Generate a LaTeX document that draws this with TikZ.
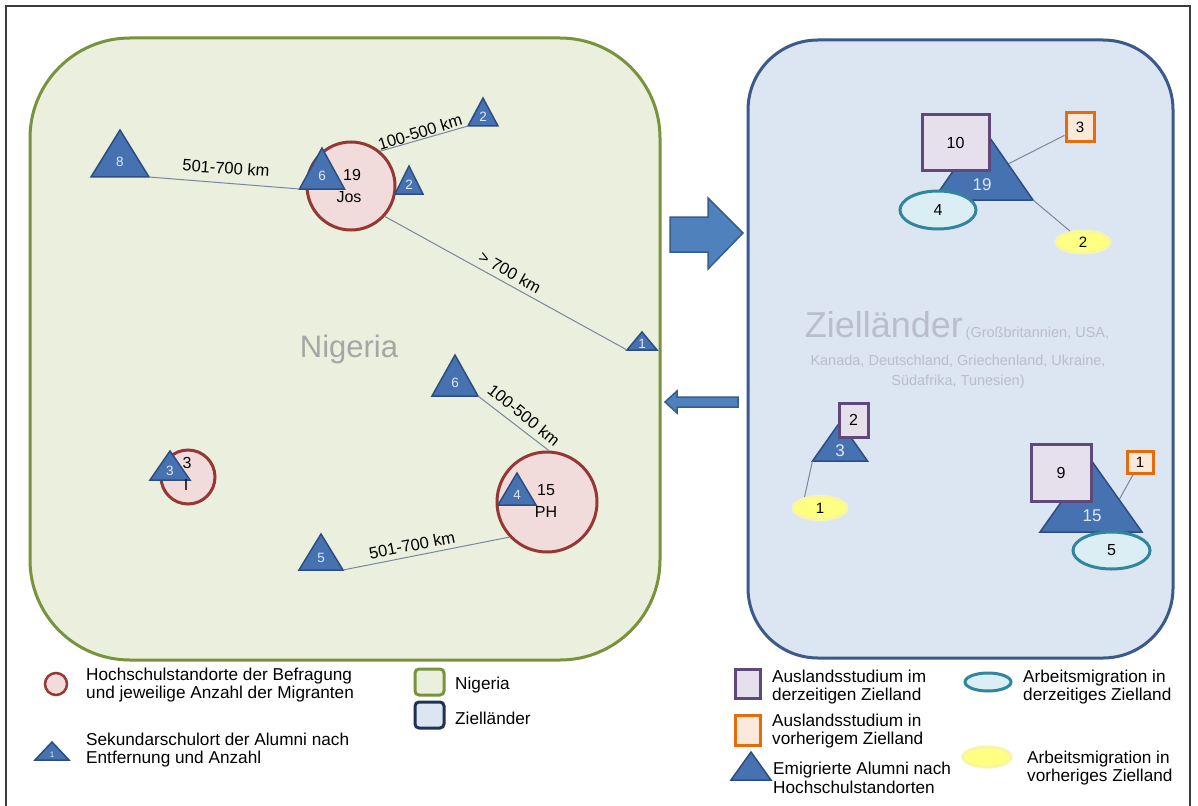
\documentclass[tikz,border=0pt]{standalone}
\usepackage{fontspec}
\setmainfont{Liberation Sans}
\usetikzlibrary{calc,shapes.geometric}
\definecolor{ngF}{RGB}{235,240,222}
\definecolor{ngD}{RGB}{119,147,60}
\definecolor{zlF}{RGB}{220,230,242}
\definecolor{zlD}{RGB}{59,89,138}
\definecolor{navyD}{RGB}{31,50,84}
\definecolor{triF}{RGB}{70,114,178}
\definecolor{triD}{RGB}{44,77,128}
\definecolor{triT}{RGB}{222,232,246}
\definecolor{uniF}{RGB}{242,220,219}
\definecolor{uniD}{RGB}{149,55,53}
\definecolor{purF}{RGB}{230,224,236}
\definecolor{purD}{RGB}{95,73,122}
\definecolor{orF}{RGB}{253,233,217}
\definecolor{orD}{RGB}{228,108,10}
\definecolor{tlF}{RGB}{219,238,243}
\definecolor{tlD}{RGB}{49,133,156}
\definecolor{ylF}{RGB}{255,255,130}
\definecolor{ylD}{RGB}{246,246,165}
\definecolor{connC}{RGB}{120,135,155}
\definecolor{ngT}{RGB}{166,166,166}
\definecolor{zlT}{RGB}{185,190,202}
\definecolor{arF}{RGB}{79,129,189}
\definecolor{arD}{RGB}{56,93,138}
\definecolor{frameC}{RGB}{60,60,60}

\newcommand\mytri[7]{% name, cx, apexy, basey, halfwidth, label, labely
  \coordinate (#1-a) at (#2,#3);
  \coordinate (#1-l) at ({#2-#5},#4);
  \coordinate (#1-r) at ({#2+#5},#4);
  \path[tri] (#1-a) -- (#1-l) -- (#1-r) -- cycle;
  \node[trilbl] (#1) at (#2,#7) {#6};}

\begin{document}
\begin{tikzpicture}[x=1pt,y=-1pt,
  tri/.style={fill=triF, draw=triD, line width=1.5pt, line join=miter},
  trilbl/.style={text=triT, font=\fontsize{13.5}{14}\selectfont, inner sep=0pt},
  conn/.style={draw=connC, line width=1pt},
  km/.style={font=\fontsize{16.5}{17}\selectfont, inner sep=0pt},
  uni/.style={circle, draw=uniD, fill=uniF, line width=3pt, inner sep=0pt},
  txt/.style={font=\fontsize{16}{16}\selectfont, inner sep=0pt},
  psq/.style={rectangle, draw=purD, fill=purF, line width=3pt, inner sep=0pt, font=\fontsize{16}{16}\selectfont},
  osq/.style={rectangle, draw=orD, fill=orF, line width=3pt, inner sep=0pt, font=\fontsize{15}{15}\selectfont},
  tell/.style={ellipse, draw=tlD, fill=tlF, line width=3pt, inner sep=0pt, font=\fontsize{16}{16}\selectfont},
  yell/.style={ellipse, draw=ylD, fill=ylF, line width=3pt, inner sep=0pt, font=\fontsize{15}{15}\selectfont},
  leg/.style={anchor=west, align=left, inner sep=0pt, font=\fontsize{17.2}{18.5}\selectfont},
  bigarrow/.style={fill=arF, draw=arD, line width=1.5pt, line join=miter}]
\useasboundingbox (0,0) rectangle (1198,805);
\fill[white] (0,0) rectangle (1198,805);
\draw[frameC, line width=1.2pt] (6,815) -- (6,6) -- (1190,6) -- (1190,815);

% panels
\draw[fill=ngF, draw=ngD, line width=3pt, rounded corners=100pt] (30,38) rectangle (660,660);
\draw[fill=zlF, draw=zlD, line width=3pt, rounded corners=70pt] (748,40) rectangle (1173,658);

% arrows between panels
\path[bigarrow] (670,217) -- (708,217) -- (708,198) -- (743,233) -- (708,269) -- (708,252) -- (670,252) -- cycle;
\path[bigarrow] (738,397) -- (677,397) -- (677,391) -- (665,402) -- (677,413) -- (677,407) -- (738,407) -- cycle;

% Nigeria title
\node[font=\fontsize{31}{31}\selectfont, text=ngT] (ngname) at (349,349) {Nigeria};

% university sites
\node[uni, minimum size=88pt] (jos) at (351,186) {};
\node[uni, minimum size=100pt] (ph) at (547,502) {};
\node[uni, minimum size=54pt] (ii) at (188,477) {};

% Jos cluster
\mytri{t8}{120}{130}{177}{29}{8}{162}
\mytri{t6a}{322}{148}{189}{22.5}{6}{176}
\mytri{t2a}{409}{166}{194}{14}{2}{185}
\mytri{t2b}{483}{98}{126}{15}{2}{117}
\mytri{t1}{642}{332}{350}{15}{1}{344}
\node[txt] (jos19) at (352,175) {19};
\node[txt] (josname) at (349,197) {Jos};
\draw[conn] (t8-r) -- (t6a-l);
\draw[conn] (jos.50) -- (t2b-l);
\draw[conn] (jos.-42) -- (t1-l);
\node[km, rotate=-4] (km1) at (226,168) {501-700 km};
\node[km, rotate=17] (km2) at (420,132) {100-500 km};
\node[km, rotate=-29] (km3) at (510,272) {> 700 km};

% PH cluster
\mytri{t6b}{455}{355}{396}{23}{6}{383}
\mytri{t4}{517}{473}{505}{19}{4}{495}
\mytri{t5}{321}{534}{570}{22}{5}{558}
\node[txt] (ph15) at (546,490) {15};
\node[txt] (phname) at (546,512) {PH};
\draw[conn] (t6b-r) -- (ph.88);
\draw[conn] (t5-r) -- (ph.223);
\node[km, rotate=-39] (km4) at (524,415) {100-500 km};
\node[km, rotate=11] (km5) at (412,545) {501-700 km};

% I cluster
\mytri{t3}{170}{451}{480}{20}{3}{471}
\node[txt] (ii3) at (187,463) {3};
\node[txt] (iiname) at (186,485) {I};

% Zielländer title
\node[anchor=base, text=zlT, inner sep=0pt] (zl1) at (957,337) {{\fontsize{36}{36}\selectfont Zielländer} {\fontsize{14.5}{15}\selectfont (Großbritannien, USA,}};
\node[anchor=base, text=zlT, inner sep=0pt, font=\fontsize{14.5}{15}\selectfont] (zl2) at (958,365) {Kanada, Deutschland, Griechenland, Ukraine,};
\node[anchor=base, text=zlT, inner sep=0pt, font=\fontsize{14.5}{15}\selectfont] (zl3) at (958,385) {Südafrika, Tunesien)};

% Ziel cluster 19
\coordinate (e19side) at (1008,164);
\node[osq, minimum width=28pt, minimum height=29pt] (o3) at (1080,127.5) {3};
\node[yell, minimum width=54pt, minimum height=22pt] (y2) at (1083,242) {2};
\draw[conn] (e19side) -- (o3);
\mytri{e19}{983}{128}{200}{50}{}{185}
\draw[conn] (e19-r) -- (y2);
\node[trilbl, font=\fontsize{17}{17}\selectfont] (e19n) at (982,185) {19};
\node[psq, minimum width=67pt, minimum height=56pt] (p10) at (955.5,143) {10};
\node[tell, minimum width=76pt, minimum height=38pt] (l4) at (938,210) {4};

% Ziel cluster 3
\node[yell, minimum width=54pt, minimum height=23pt] (y1) at (820,508) {1};
\mytri{e3}{840}{422}{461}{27.5}{}{451}
\draw[conn] (e3-l) -- (y1.145);
\node[trilbl, font=\fontsize{17}{17}\selectfont] (e3n) at (840,451) {3};
\node[psq, minimum width=29pt, minimum height=34pt] (p2) at (853.5,420) {2};

% Ziel cluster 15
\node[osq, minimum width=26pt, minimum height=22pt] (o1) at (1140,462) {1};
\coordinate (e15side) at (1119,500);
\draw[conn] (e15side) -- (o1);
\mytri{e15}{1091}{460}{532}{51}{}{516}
\node[trilbl, font=\fontsize{17}{17}\selectfont] (e15n) at (1092,516) {15};
\node[psq, minimum width=60pt, minimum height=57pt] (p9) at (1061,472.5) {9};
\node[tell, minimum width=77pt, minimum height=37pt] (l5) at (1111.5,550.5) {5};

% legend left
\node[uni, minimum size=22pt, line width=2.5pt] (lguni) at (56,684) {};
\node[leg] (lguniT) at (86,685) {Hochschulstandorte der Befragung\\und jeweilige Anzahl der Migranten};
\mytri{lgtri}{52}{742}{760}{17}{\fontsize{8}{8}\selectfont 1}{755}
\node[leg] (lgtriT) at (86,750) {Sekundarschulort der Alumni nach\\Entfernung und Anzahl};
\node[draw=ngD, fill=ngF, line width=3pt, rounded corners=4pt, minimum width=29pt, minimum height=26pt] (lgng) at (429.5,682) {};
\node[leg] (lgngT) at (455,685) {Nigeria};
\node[draw=navyD, fill=zlF, line width=3pt, rounded corners=4pt, minimum width=29pt, minimum height=26pt] (lgzl) at (429.5,715) {};
\node[leg] (lgzlT) at (455,718) {Zielländer};

% legend right
\node[psq, minimum width=25pt, minimum height=29pt] (lgp) at (747.5,683.5) {};
\node[leg] (lgpT) at (772,687) {Auslandsstudium im\\derzeitigen Zielland};
\node[osq, minimum width=25pt, minimum height=30pt] (lgo) at (747.5,730) {};
\node[leg] (lgoT) at (772,731) {Auslandsstudium in\\vorherigem Zielland};
\mytri{lge}{751}{752}{780}{20}{}{772}
\node[leg] (lgeT) at (773,778) {Emigrierte Alumni nach\\Hochschulstandorten};
\node[tell, minimum width=46pt, minimum height=18pt] (lgt) at (988,682) {};
\node[leg] (lgtT) at (1023,687) {Arbeitsmigration in\\derzeitiges Zielland};
\node[yell, minimum width=48pt, minimum height=20pt] (lgy) at (987,757) {};
\node[leg] (lgyT) at (1027,768) {Arbeitsmigration in\\vorheriges Zielland};
\end{tikzpicture}
\end{document}
